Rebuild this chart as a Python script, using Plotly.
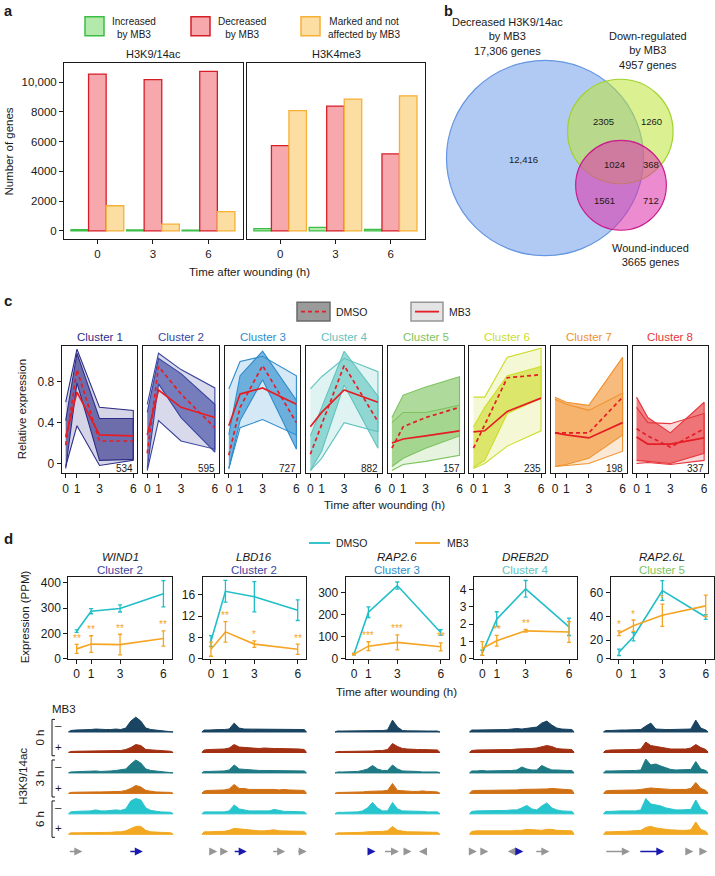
import plotly.graph_objects as go

W, H = 715, 876
FONT = "Liberation Sans, Arial, Helvetica, sans-serif"
INK = "#1a1a1a"

# ======================= DATA =======================
# ---- panel a ----
a_times = ["0", "3", "6"]
a_series = ["Increased<br>by MB3", "Decreased<br>by MB3", "Marked and not<br>affected by MB3"]
a_marks = ["H3K9/14ac", "H3K4me3"]
h3k9_increased = [80, 60, 50]
h3k9_decreased = [10550, 10180, 10730]
h3k9_marked = [1690, 450, 1290]
h3k4_increased = [150, 230, 100]
h3k4_decreased = [5730, 8400, 5180]
h3k4_marked = [8090, 8870, 9090]
a_ytickvals = [0, 2000, 4000, 6000, 8000, 10000]
a_yticktext = ["0", "2000", "4000", "6000", "8000", "10,000"]

# ---- panel b ----
venn_labels = ["Decreased H3K9/14ac<br>by MB3", "Down-regulated<br>by MB3", "Wound-induced"]
venn_sizes = [17306, 4957, 3665]
venn_regions = [12416, 2305, 1260, 1024, 368, 1561, 712]

# ---- panel c ----
c_times = [0, 1, 3, 6]
cluster_names = ["Cluster 1", "Cluster 2", "Cluster 3", "Cluster 4",
                 "Cluster 5", "Cluster 6", "Cluster 7", "Cluster 8"]
cluster_sizes = [534, 595, 727, 882, 157, 235, 198, 337]
dmso_hi = [[0.42, 1.08, 0.44, 0.44], [0.50, 1.03, 0.88, 0.58], [0.28, 0.86, 1.10, 0.62],
           [0.27, 0.55, 1.10, 0.66], [0.45, 0.67, 0.75, 0.85], [0.36, 0.55, 0.86, 0.95],
           [0.65, 0.60, 0.57, 1.04], [0.65, 0.45, 0.30, 0.60]]
dmso_lo = [[-0.05, 0.79, 0.03, 0.04], [-0.05, 0.78, 0.45, 0.11], [-0.05, 0.42, 0.82, 0.14],
           [-0.07, 0.12, 0.77, 0.15], [-0.03, 0.05, 0.15, 0.27], [-0.04, 0.03, 0.49, 0.64],
           [-0.03, -0.01, 0.05, 0.28], [0.03, 0.02, 0.00, 0.10]]
mb3_hi = [[0.60, 1.12, 0.55, 0.52], [0.58, 1.08, 0.92, 0.74], [0.73, 1.00, 1.05, 0.86],
          [0.73, 0.85, 1.03, 0.90], [0.40, 0.50, 0.50, 0.57], [0.65, 0.65, 1.04, 1.13],
          [0.63, 0.58, 0.52, 0.69], [0.55, 0.40, 0.39, 0.49]]
mb3_lo = [[-0.03, 0.37, -0.02, 0.03], [-0.07, 0.42, 0.22, 0.14], [-0.05, 0.35, 0.43, 0.28],
          [-0.07, 0.05, 0.40, 0.31], [-0.07, -0.01, 0.02, 0.08], [-0.05, 0.00, 0.17, 0.32],
          [-0.03, -0.02, 0.00, 0.12], [0.00, 0.01, -0.01, 0.03]]
dmso_median = [[0.18, 0.92, 0.22, 0.22], [0.10, 0.95, 0.68, 0.35], [0.08, 0.55, 0.96, 0.40],
               [0.09, 0.38, 0.96, 0.41], [0.15, 0.36, 0.45, 0.55], [0.15, 0.38, 0.84, 0.87],
               [0.30, 0.30, 0.30, 0.65], [0.34, 0.27, 0.16, 0.34]]
mb3_median = [[0.26, 0.70, 0.28, 0.27], [0.28, 0.72, 0.55, 0.45], [0.37, 0.68, 0.74, 0.58],
              [0.36, 0.50, 0.72, 0.60], [0.20, 0.24, 0.27, 0.32], [0.31, 0.32, 0.51, 0.64],
              [0.30, 0.28, 0.25, 0.40], [0.26, 0.19, 0.19, 0.25]]
c_ytickvals = [0, 0.4, 0.8]

# ---- panel d (expression) ----
d_times = [0, 1, 3, 6]
d_genes = ["WIND1", "LBD16", "RAP2.6", "DREB2D", "RAP2.6L"]
d_gene_cluster = [2, 2, 3, 4, 5]
d_dmso_mean = [[209, 288, 299, 357], [7.4, 16.6, 15.6, 13.1], [22, 212, 333, 120],
               [0.35, 2.29, 4.04, 1.85], [9.65, 22.8, 62.0, 39.6]]
d_dmso_err = [[5, 10, 14, 52], [1.0, 2.0, 2.8, 1.9], [3, 24, 16, 13],
              [0.15, 0.43, 0.48, 0.50], [2.7, 3.5, 8.4, 2.0]]
d_mb3_mean = [[139, 158, 156, 180], [5.9, 9.1, 6.84, 5.9], [22, 58, 75, 55],
              [0.60, 1.05, 1.62, 1.55], [25.8, 32.2, 41.1, 49.0]]
d_mb3_err = [[18, 33, 41, 30], [1.3, 1.9, 0.6, 0.95], [3, 20, 34, 18],
             [0.40, 0.31, 0.08, 0.60], [2.0, 4.8, 9.4, 9.0]]
d_stars = [["**", "**", "**", "**"], ["", "**", "*", "**"], ["", "***", "***", "**"],
           ["", "**", "**", ""], ["*", "*", "*", ""]]
d_ytickvals = [[99.2, 200, 300, 400], [4.1, 8, 12, 16], [0, 100, 200, 300],
               [0, 1, 2, 3, 4], [4.05, 20, 40, 60]]
d_yticktext = [["0", "200", "300", "400"], ["0", "8", "12", "16"], ["0", "100", "200", "300"],
               ["0", "1", "2", "3", "4"], ["0", "20", "40", "60"]]
d_yrange = [[99.2, 422], [4.1, 19.17], [0, 370], [0, 4.7], [4.05, 73.1]]

# ---- panel d (ChIP tracks, coverage per bin) ----
track_times = ["0 h", "3 h", "6 h"]
track_bins = list(range(21))
wind1_tracks = [
    [1.5, 2, 2, 2, 2.5, 3, 2.5, 2.5, 2.5, 3, 2.5, 4, 11, 15, 11, 4, 2.5, 2, 1.5, 1.2, 1],
    [1, 1.2, 1.3, 1.5, 1.5, 1.5, 1.5, 1.5, 1.7, 2, 2, 3, 5, 8, 7, 3, 2.5, 2, 1.5, 1.5, 1.2],
    [1, 1.2, 1.5, 1.5, 1.5, 2, 1.5, 1.5, 2, 2.5, 3.5, 4, 9, 13, 10, 4, 2.5, 2, 1.5, 1.2, 1],
    [1, 1.2, 1.3, 2, 1.5, 1.5, 1.5, 1.5, 1.5, 1.8, 2, 3, 5, 8, 6.5, 3, 2, 1.5, 1.3, 1.2, 1],
    [2, 2.5, 2.5, 3, 3, 4, 3, 3, 3.5, 4, 3.5, 5, 13, 15.5, 14, 6, 3.5, 2.5, 2, 1.8, 1.5],
    [1.5, 1.5, 1.5, 1.5, 1.7, 1.8, 2, 2, 2, 2.5, 2.5, 3.5, 6, 8, 8, 4, 2.5, 2, 2, 1.8, 1.5],
]
lbd16_tracks = [
    [2, 2, 2.5, 2.5, 2.5, 3, 9, 4, 3, 3, 2.5, 2.5, 2.5, 3, 2.5, 2.5, 3, 2.5, 2.5, 3, 2.5],
    [2.5, 3, 3, 3.5, 3.5, 4.5, 8, 5.5, 5, 4.5, 4, 4, 4.5, 4, 4, 4, 4, 3.5, 3.5, 3.5, 3],
    [1.5, 1.5, 1.5, 2, 2, 3, 8, 4, 3.5, 3, 2.5, 2.5, 2.5, 2.5, 2.5, 2.5, 2, 2, 2, 2, 2],
    [2.5, 3, 3, 3, 3.5, 4.5, 9, 5, 5, 4, 4, 4.5, 4, 4, 4, 3.5, 4, 3.5, 3.5, 3.5, 3],
    [2, 2, 2, 2, 2, 3, 9, 5, 4, 3, 3, 3, 3, 3, 4.5, 3.5, 2.5, 2.5, 2.5, 2.5, 2],
    [2.5, 2.5, 3, 3, 3, 4, 6, 5.5, 5, 4, 4, 3.5, 3.5, 4, 4.5, 3.5, 3.5, 3, 3, 3, 3],
]
rap26_tracks = [
    [1, 1, 1, 1.2, 1, 1.2, 1.2, 1.5, 1.5, 1.5, 2, 12, 5, 1.5, 1.2, 1, 1, 1, 1, 1, 1],
    [1, 1, 1, 1.2, 1.2, 1.5, 1.5, 1.5, 2, 2, 3, 9, 6, 4, 3.5, 3, 3, 3, 3, 2.5, 2.5],
    [1, 1, 1, 1, 1.5, 2.5, 4, 7.5, 4, 2.5, 2.5, 8, 4, 2, 2, 1.5, 1.5, 1, 1.2, 1, 1],
    [1, 1, 1, 1.2, 1.5, 1.5, 2, 2, 2.5, 2.5, 3, 10, 3, 2.5, 2.5, 2, 2, 2.5, 2, 2, 1.5],
    [1.5, 1.5, 1.5, 2, 2, 3, 6, 11.5, 6, 3, 3, 11.5, 5, 3, 3, 2.5, 2.5, 2.5, 2, 2, 2],
    [1.5, 1.5, 1.5, 2, 2, 2, 2.5, 2.5, 3, 3, 3.5, 8, 4, 3, 2.5, 2.5, 2.5, 2.5, 2.5, 2, 2],
]
dreb2d_tracks = [
    [2, 2, 2, 2, 2, 2.5, 2.5, 2.5, 3, 3.5, 3, 3.5, 4, 5, 9, 11, 7, 4, 3, 2.5, 2.5],
    [2, 2.5, 2.5, 3, 2.5, 2.5, 3, 3, 3, 3.5, 3.5, 4, 4, 4.5, 6, 7, 6, 4, 3.5, 3.5, 3],
    [2, 2, 2.5, 2, 2, 2, 2, 2.5, 2.5, 3, 6, 4, 3, 3, 7.5, 5, 3, 3, 2.5, 2.5, 2.5],
    [2.5, 3, 3, 3, 3, 3, 3, 3.5, 3.5, 3.5, 4, 4, 4, 4, 4.5, 4.5, 5, 4.5, 4, 4, 3.5],
    [2.5, 3, 3, 3, 3, 3, 3.5, 3.5, 4, 4, 6, 8.5, 5, 4, 8, 11, 6, 4, 3, 3, 2.5],
    [3, 3.5, 3.5, 3.5, 3.5, 3, 3.5, 3.5, 3.5, 4, 4, 5, 4.5, 4.5, 4, 5, 5, 4, 4, 3.5, 3.5],
]
rap26l_tracks = [
    [1.5, 1.5, 2, 2, 2, 2, 2.5, 2.5, 6, 9, 3, 2.5, 2.5, 2.5, 2.5, 2.5, 2.5, 3, 12, 4, 2],
    [2, 2.5, 2.5, 3, 3, 2.5, 3, 3.5, 10.5, 7, 6, 5, 4, 3.5, 3.5, 3.5, 3.5, 4.5, 8, 5, 3],
    [2, 2, 2, 2, 2, 2.5, 2.5, 3, 14, 8, 9, 7, 5, 3.5, 3, 3, 3, 3.5, 11.5, 4, 2.5],
    [2.5, 3, 3, 3, 3, 3, 3.5, 4, 5, 5.5, 5, 4.5, 4.5, 4, 4, 4, 4, 5, 11, 5, 3],
    [2.5, 2.5, 3, 3, 3, 3, 3, 4, 15.5, 10, 9, 8, 6, 5, 4, 4, 4, 4.5, 14, 5, 3],
    [2.5, 2.5, 3, 3, 3, 3.5, 3.5, 4, 7, 8, 6.5, 5.5, 5, 4.5, 4, 4, 4, 4.5, 12.5, 5, 3],
]
gene_tracks = [wind1_tracks, lbd16_tracks, rap26_tracks, dreb2d_tracks, rap26l_tracks]

# ======================= STYLE / LAYOUT HELPERS =======================
def X(x):
    return x / W


def Y(y):
    return 1 - y / H


def xd(a, b):
    return [a / W, b / W]


def yd(top, bot):
    return [1 - bot / H, 1 - top / H]


def rgba(c, a):
    return f"rgba({c[0]},{c[1]},{c[2]},{a})"


BASE_AX = dict(showline=True, linecolor=INK, linewidth=1, mirror=True, ticks="outside",
               ticklen=4, tickwidth=1, tickcolor=INK, showgrid=False, zeroline=False,
               tickfont=dict(size=11.5, color=INK, family=FONT), fixedrange=True)

fig = go.Figure()
layout = {}
ann = []
shapes = []


def ax(kind, i):
    return f"{kind}axis" if i == 1 else f"{kind}axis{i}"


def rf(kind, i):
    return kind if i == 1 else f"{kind}{i}"


def text(x, y, s, size=11, color=INK, xanchor="center", yanchor="middle", angle=0,
         bold=False, italic=False):
    if bold:
        s = f"<b>{s}</b>"
    if italic:
        s = f"<i>{s}</i>"
    ann.append(dict(x=X(x), y=Y(y), xref="paper", yref="paper", text=s, showarrow=False,
                    xanchor=xanchor, yanchor=yanchor, textangle=angle,
                    font=dict(size=size, color=color, family=FONT)))


# ======================= PANEL A =======================
a_fill = ["rgb(180,233,172)", "rgb(246,168,172)", "rgb(253,222,162)"]
a_edge = ["rgb(60,190,70)", "rgb(214,30,40)", "rgb(246,176,52)"]
a_frames = [(64, 243), (247, 425)]
a_data = [[h3k9_increased, h3k9_decreased, h3k9_marked],
          [h3k4_increased, h3k4_decreased, h3k4_marked]]
for p in range(2):
    i = p + 1
    for s in range(3):
        fig.add_trace(go.Bar(x=a_times, y=a_data[p][s], name=a_series[s],
                             marker=dict(color=a_fill[s], line=dict(color=a_edge[s], width=1.3)),
                             xaxis=rf("x", i), yaxis=rf("y", i)))
    layout[ax("x", i)] = dict(BASE_AX, domain=xd(*a_frames[p]), range=[-0.6, 2.62],
                              anchor=rf("y", i), type="category")
    ya = dict(BASE_AX, domain=yd(63, 240), range=[-533, 11267], anchor=rf("x", i),
              tickvals=a_ytickvals, ticktext=a_yticktext)
    if p == 1:
        ya.update(showticklabels=False, ticks="")
    layout[ax("y", i)] = ya
    text((a_frames[p][0] + a_frames[p][1]) / 2, 53, a_marks[p], size=11)

text(2, 0, "a", size=14.5, bold=True, xanchor="left", yanchor="top")
leg_x = [85, 191, 301]
for s in range(3):
    shapes.append(dict(type="rect", xref="paper", yref="paper", x0=X(leg_x[s]), x1=X(leg_x[s] + 19),
                       y0=Y(35), y1=Y(16), fillcolor=a_fill[s], line=dict(color=a_edge[s], width=1.5)))
    text(leg_x[s] + 25, 27, a_series[s], size=10, xanchor="left")
text(9, 152, "Number of genes", size=11.5, angle=-90)
text(249, 273, "Time after wounding (h)", size=11.5)

# ======================= PANEL B (Venn) =======================
layout["xaxis3"] = dict(domain=xd(440, 715), range=[440, 715], visible=False, fixedrange=True, anchor="y3")
layout["yaxis3"] = dict(domain=yd(0, 290), range=[290, 0], visible=False, fixedrange=True, anchor="x3")
venn_centers = [(545, 158.5), (620.3, 131.7), (621, 186)]
venn_k = 0.749
venn_fill = [rgba((100, 150, 232), 0.5), rgba((190, 230, 55), 0.55), rgba((222, 55, 172), 0.58)]
venn_edge = ["rgb(100,150,225)", "rgb(160,210,40)", "rgb(200,30,140)"]
for s in range(3):
    r = venn_k * venn_sizes[s] ** 0.5
    cx, cy = venn_centers[s]
    shapes.append(dict(type="circle", xref="x3", yref="y3", x0=cx - r, x1=cx + r, y0=cy - r, y1=cy + r,
                       fillcolor=venn_fill[s], line=dict(color=venn_edge[s], width=1.2), layer="above"))


def fmt(n):
    return f"{n:,}" if n >= 10000 else str(n)


venn_label_pos = [(507, 36), (648, 50), (650, 256.5)]
for s in range(3):
    text(venn_label_pos[s][0], venn_label_pos[s][1], f"{venn_labels[s]}<br>{fmt(venn_sizes[s])} genes", size=11)
venn_region_pos = [(523, 160), (603, 122), (651, 122), (614, 165), (651, 165), (604, 201), (651, 201)]
for n, (x, y) in zip(venn_regions, venn_region_pos):
    text(x, y, fmt(n), size=9.5)
text(442, 0, "b", size=14.5, bold=True, xanchor="left", yanchor="top")

# ======================= PANEL C =======================
cluster_rgb = [(45, 45, 135), (58, 68, 158), (45, 140, 205), (95, 195, 190),
               (125, 195, 95), (205, 220, 40), (240, 145, 45), (230, 55, 60)]
RED = "rgb(228,30,36)"
for k in range(8):
    i = 4 + k
    left = 61.7 + 81.55 * k
    right = left + 75.6
    xr, yr = rf("x", i), rf("y", i)
    col = cluster_rgb[k]
    for hi, lo, a in ((mb3_hi[k], mb3_lo[k], 0.2), (dmso_hi[k], dmso_lo[k], 0.62)):
        fig.add_trace(go.Scatter(x=c_times + c_times[::-1], y=hi + lo[::-1], mode="lines",
                                 fill="toself", fillcolor=rgba(col, a),
                                 line=dict(color=rgba(col, 1), width=1.1),
                                 xaxis=xr, yaxis=yr, hoverinfo="skip"))
    fig.add_trace(go.Scatter(x=c_times, y=dmso_median[k], mode="lines",
                             line=dict(color=RED, width=1.7, dash="4px,3px"), xaxis=xr, yaxis=yr))
    fig.add_trace(go.Scatter(x=c_times, y=mb3_median[k], mode="lines",
                             line=dict(color=RED, width=1.7), xaxis=xr, yaxis=yr))
    layout[ax("x", i)] = dict(BASE_AX, domain=xd(left, right), range=[-0.355, 6.355], anchor=yr,
                              tickvals=c_times, tickfont=dict(size=12, color=INK, family=FONT))
    ya = dict(BASE_AX, domain=yd(348.3, 476.7), range=[-0.097, 1.15], anchor=xr,
              tickvals=c_ytickvals, tickfont=dict(size=12, color=INK, family=FONT))
    if k > 0:
        ya.update(showticklabels=False, ticks="")
    layout[ax("y", i)] = ya
    text((left + right) / 2, 339, cluster_names[k], size=11.5, color=rgba(col, 1))
    text(right - 2, 471.5, str(cluster_sizes[k]), size=10, xanchor="right")

text(2, 302, "c", size=15, bold=True, xanchor="left")
text(22, 412, "Relative expression", size=11.5, angle=-90)
text(384, 509, "Time after wounding (h)", size=11.5)
# legend boxes
shapes.append(dict(type="rect", xref="paper", yref="paper", x0=X(297), x1=X(330), y0=Y(323), y1=Y(304),
                   fillcolor="rgb(155,155,155)", line=dict(color="rgb(105,105,105)", width=1.5)))
shapes.append(dict(type="line", xref="paper", yref="paper", x0=X(301), x1=X(326), y0=Y(313.5), y1=Y(313.5),
                   line=dict(color=RED, width=1.8, dash="4px,3px")))
text(334, 313.5, "DMSO", size=10.5, xanchor="left")
shapes.append(dict(type="rect", xref="paper", yref="paper", x0=X(411), x1=X(443), y0=Y(323), y1=Y(304),
                   fillcolor="rgb(228,228,228)", line=dict(color="rgb(150,150,150)", width=1.5)))
shapes.append(dict(type="line", xref="paper", yref="paper", x0=X(415), x1=X(439), y0=Y(313.5), y1=Y(313.5),
                   line=dict(color=RED, width=1.8)))
text(447, 313.5, "MB3", size=10.5, xanchor="left")

# ======================= PANEL D (expression) =======================
CYAN = "rgb(32,190,200)"
ORANGE = "rgb(245,165,35)"
d_t0 = [76.7, 211, 354, 482.3, 619]
for g in range(5):
    i = 12 + g
    xr, yr = rf("x", i), rf("y", i)
    left = d_t0[g] - 8.4
    right = d_t0[g] + 86.7 + 8.4
    for mean, err, col in ((d_dmso_mean[g], d_dmso_err[g], CYAN), (d_mb3_mean[g], d_mb3_err[g], ORANGE)):
        fig.add_trace(go.Scatter(x=d_times, y=mean, mode="lines", line=dict(color=col, width=1.6),
                                 error_y=dict(type="data", array=err, color=col, thickness=1.3, width=2),
                                 xaxis=xr, yaxis=yr, cliponaxis=False))
    for t, m, e, st in zip(d_times, d_mb3_mean[g], d_mb3_err[g], d_stars[g]):
        if st:
            ann.append(dict(x=t, y=m + e, xref=xr, yref=yr, text=st, showarrow=False, yshift=6,
                            font=dict(size=10, color=ORANGE, family=FONT)))
    layout[ax("x", i)] = dict(BASE_AX, domain=xd(left, right), range=[-0.58, 6.58], anchor=yr,
                              tickvals=d_times, tickfont=dict(size=12, color=INK, family=FONT))
    layout[ax("y", i)] = dict(BASE_AX, domain=yd(581.7, 664), range=d_yrange[g], anchor=xr,
                              tickvals=d_ytickvals[g], ticktext=d_yticktext[g],
                              tickfont=dict(size=12, color=INK, family=FONT))
    cx = (left + right) / 2
    text(cx, 561.5, d_genes[g], size=11.5, italic=True)
    cl = d_gene_cluster[g]
    text(cx, 574.5, cluster_names[cl - 1], size=11.5, color=rgba(cluster_rgb[cl - 1], 1))

text(2, 542, "d", size=15, bold=True, xanchor="left")
text(25, 622, "Expression (PPM)", size=11.5, angle=-90)
text(396, 697, "Time after wounding (h)", size=11.5)
shapes.append(dict(type="line", xref="paper", yref="paper", x0=X(309), x1=X(330), y0=Y(547), y1=Y(547),
                   line=dict(color=CYAN, width=1.8)))
text(334, 547, "DMSO", size=10.5, xanchor="left")
shapes.append(dict(type="line", xref="paper", yref="paper", x0=X(415), x1=X(440), y0=Y(547), y1=Y(547),
                   line=dict(color=ORANGE, width=1.8)))
text(445, 547, "MB3", size=10.5, xanchor="left")

# ======================= PANEL D (tracks) =======================
track_colors = ["rgb(25,68,98)", "rgb(162,48,18)", "rgb(30,122,132)",
                "rgb(208,112,20)", "rgb(38,196,204)", "rgb(242,168,34)"]
track_left = [68.3, 201.7, 335, 469.3, 603.3]
row_base = [124.25, 103.6, 82.95, 62.3, 41.65, 21.0]
layout["yaxis17"] = dict(domain=yd(716, 862), range=[0, 146], visible=False, fixedrange=True, anchor="x17")
for g in range(5):
    i = 17 + g
    xr = rf("x", i)
    layout[ax("x", i)] = dict(domain=xd(track_left[g], track_left[g] + 105), range=[-0.5, 20.5],
                              visible=False, fixedrange=True, anchor="y17")
    for r in range(6):
        vals = gene_tracks[g][r]
        base = row_base[r]
        xs = [-0.5] + track_bins + [20.5, -0.5]
        ys = [base] + [base + v for v in vals] + [base, base]
        fig.add_trace(go.Scatter(x=xs, y=ys, mode="lines", fill="toself", fillcolor=track_colors[r],
                                 line=dict(color=track_colors[r], width=1), xaxis=xr, yaxis="y17",
                                 hoverinfo="skip"))

GRAY = "rgb(150,150,150)"
BLUE = "rgb(25,25,175)"
gene_arrows = [
    [(-0.5, 2.3, GRAY), (11.6, 14.4, BLUE)],
    [(1.3, 2.6, GRAY), (3.5, 4.8, GRAY), (5.8, 8.5, BLUE), (13.5, 16.2, GRAY), (18.5, 20.5, GRAY)],
    [(5.8, 7.6, BLUE), (9.2, 12.3, GRAY), (13.2, 14.8, GRAY), (17.8, 16.3, GRAY)],
    [(-0.5, 1.0, GRAY), (1.6, 3.3, GRAY), (8.5, 7.2, GRAY), (8.5, 10.3, BLUE), (12.6, 15.5, GRAY)],
    [(-0.2, 4.8, GRAY), (6.6, 11.7, BLUE), (15.8, 17.5, GRAY), (19.2, 20.3, GRAY)],
]
gene_label_x = [13.0, 7.5, 6.7, 9.5, 10.8]
for g in range(5):
    xr = rf("x", 17 + g)
    for a0, a1, col in gene_arrows[g]:
        ann.append(dict(x=a1, y=3.7, ax=a0, ay=3.7, xref=xr, yref="y17", axref=xr, ayref="y17",
                        text="", showarrow=True, arrowhead=2, arrowsize=1, arrowwidth=1.6,
                        arrowcolor=col))
    ann.append(dict(x=gene_label_x[g], y=-9.7, xref=xr, yref="y17", text=f"<i>{d_genes[g]}</i>",
                    showarrow=False, font=dict(size=11.5, color=INK, family=FONT)))

text(50, 715, "MB3", size=11.5, xanchor="left")
text(23, 782, "H3K9/14ac", size=11.5, angle=-90)
brackets = [(725, 761.7), (766, 803.3), (807.3, 844)]
for (t0, t1), lab in zip(brackets, track_times):
    for seg in ((52, t0, 52, t1), (52, t0, 55, t0), (52, t1, 55, t1)):
        shapes.append(dict(type="line", xref="paper", yref="paper", x0=X(seg[0]), y0=Y(seg[1]),
                           x1=X(seg[2]), y1=Y(seg[3]), line=dict(color=INK, width=1)))
    text(58, t0 + 6, "–", size=11.5)
    text(58, t1 - 9, "+", size=11.5)
    text(40, (t0 + t1) / 2, lab, size=11.5, angle=-90)

layout.update(width=W, height=H, margin=dict(l=0, r=0, t=0, b=0), paper_bgcolor="white",
              plot_bgcolor="white", showlegend=False, barmode="group", bargap=0.05, bargroupgap=0,
              font=dict(family=FONT, size=11, color=INK), annotations=ann, shapes=shapes)
fig.update_layout(**layout)
fig.write_html("out.html", config={"displayModeBar": False},
               post_script="document.body.style.margin='0px';")
